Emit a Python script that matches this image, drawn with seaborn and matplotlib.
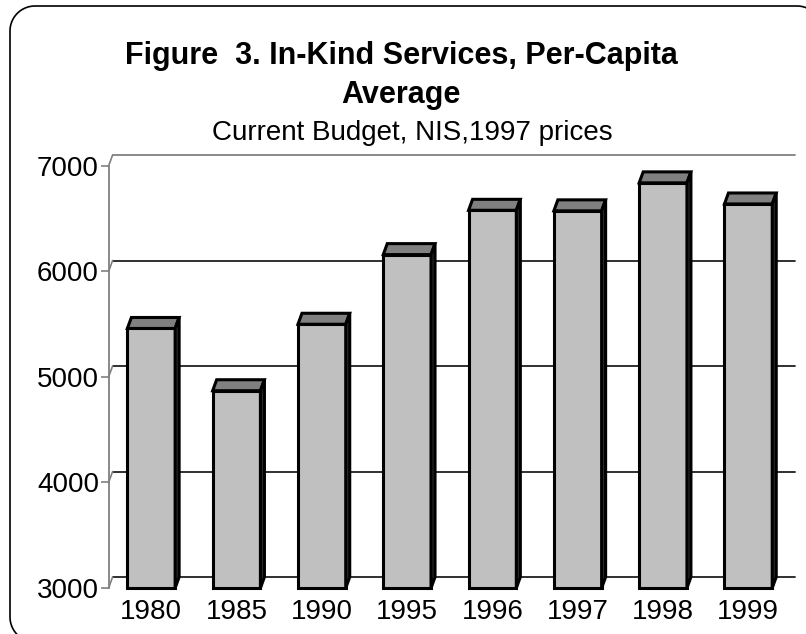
import matplotlib
matplotlib.use('Agg')
import matplotlib.pyplot as plt
import matplotlib.transforms as mtransforms
from matplotlib.lines import Line2D
import numpy as np
import seaborn as sns
import pandas as pd
from matplotlib.patches import Polygon

# ---- data ----
years = ['1980', '1985', '1990', '1995', '1996', '1997', '1998', '1999']
values = [5460, 4870, 5500, 6160, 6580, 6575, 6840, 6640]
yticks = [3000, 4000, 5000, 6000, 7000]
title_line1 = 'Figure  3. In-Kind Services, Per-Capita'
title_line2 = 'Average'
subtitle = 'Current Budget, NIS,1997 prices'

sns.set_theme(style='white')
plt.rcParams['font.family'] = ['Liberation Sans', 'DejaVu Sans']
plt.rcParams['text.color'] = 'black'

W, H = 806, 634
fig = plt.figure(figsize=(W / 100, H / 100), dpi=100)
ax = fig.add_axes([108.6 / W, (H - 588) / H, (795 - 108.6) / W, (588 - 155) / H])

df = pd.DataFrame({'year': years, 'value': values})
sns.barplot(data=df, x='year', y='value', color='#C0C0C0', saturation=1,
            width=0.56, edgecolor='black', linewidth=2.2, ax=ax, zorder=3)

base = yticks[0]
dxu = 4 / 85.3      # depth offset in category units
dyu = 104           # depth offset in data units
ax.set_xlim(-0.5, len(years) - 0.5 + dxu)
ax.set_ylim(base, yticks[-1] + dyu)

# 3-D look for bars
for p in list(ax.patches):
    top = p.get_height()
    p.set_y(base)
    p.set_height(top - base)
    p.set_clip_on(False)
    x0, w = p.get_x(), p.get_width()
    topface = Polygon([(x0, top), (x0 + w, top), (x0 + w + dxu, top + dyu), (x0 + dxu, top + dyu)],
                      closed=True, facecolor='#808080', edgecolor='black', lw=2.2,
                      joinstyle='miter', zorder=4, clip_on=False)
    side = Polygon([(x0 + w, base), (x0 + w + dxu, base + dyu), (x0 + w + dxu, top + dyu), (x0 + w, top)],
                   closed=True, facecolor='#303030', edgecolor='black', lw=2.2,
                   joinstyle='miter', zorder=4, clip_on=False)
    ax.add_patch(topface)
    ax.add_patch(side)

# back-wall gridlines and wall diagonals
x_lo, x_hi = ax.get_xlim()
for t in yticks:
    col = '#808080' if t == yticks[-1] else '#202020'
    ax.plot([x_lo + dxu, x_hi], [t + dyu, t + dyu], color=col, lw=1.3, zorder=1, clip_on=False)
    ax.plot([x_lo, x_lo + dxu], [t, t + dyu], color='#808080', lw=1.2, zorder=1, clip_on=False)

for s in ['top', 'right', 'bottom']:
    ax.spines[s].set_visible(False)
ax.spines['left'].set_color('#808080')
ax.spines['left'].set_linewidth(1.3)
ax.spines['left'].set_bounds(yticks[0], yticks[-1])

ax.set_yticks(yticks)
ax.set_yticklabels([str(t) for t in yticks])
ax.tick_params(axis='y', left=True, length=6, width=1.2, color='#808080',
               labelsize=20, pad=1, labelcolor='black')
ax.tick_params(axis='x', bottom=False, length=0, labelsize=20, pad=8, labelcolor='black')
ax.set_xlabel('')
ax.set_ylabel('')
ax.set_facecolor('white')

# titles
fig.text(0.4975, 1 - 64 / H, title_line1, ha='center', va='baseline', fontsize=22,
         fontweight='bold', color='black')
fig.text(0.4975, 1 - 103 / H, title_line2, ha='center', va='baseline', fontsize=22,
         fontweight='bold', color='black')
fig.text(0.511, 1 - 140 / H, subtitle, ha='center', va='baseline', fontsize=20, color='black')

# rounded frame: left side, top side, three visible rounded corners (pixel coords)
r = 25
xl, xr, yt, yb = 10, 822, H - 6, -8
def arc(cx, cy, a0, a1, n=30):
    a = np.radians(np.linspace(a0, a1, n))
    return cx + r * np.cos(a), cy + r * np.sin(a)
segs = []
bx, by = arc(xl + r, yb + r, 270, 180)     # bottom-left corner
tx, ty = arc(xl + r, yt - r, 180, 90)      # top-left corner
rx, ry = arc(xr - r, yt - r, 90, 0)        # top-right corner
px = np.concatenate([[xl + r + 40], bx, tx, rx, [xr]])
py = np.concatenate([[yb], by, ty, ry, [yt - r - 40]])
frame = Line2D(px, py, color='black', lw=1.2, transform=mtransforms.IdentityTransform())
fig.add_artist(frame)

fig.savefig('out.png', dpi=100)
